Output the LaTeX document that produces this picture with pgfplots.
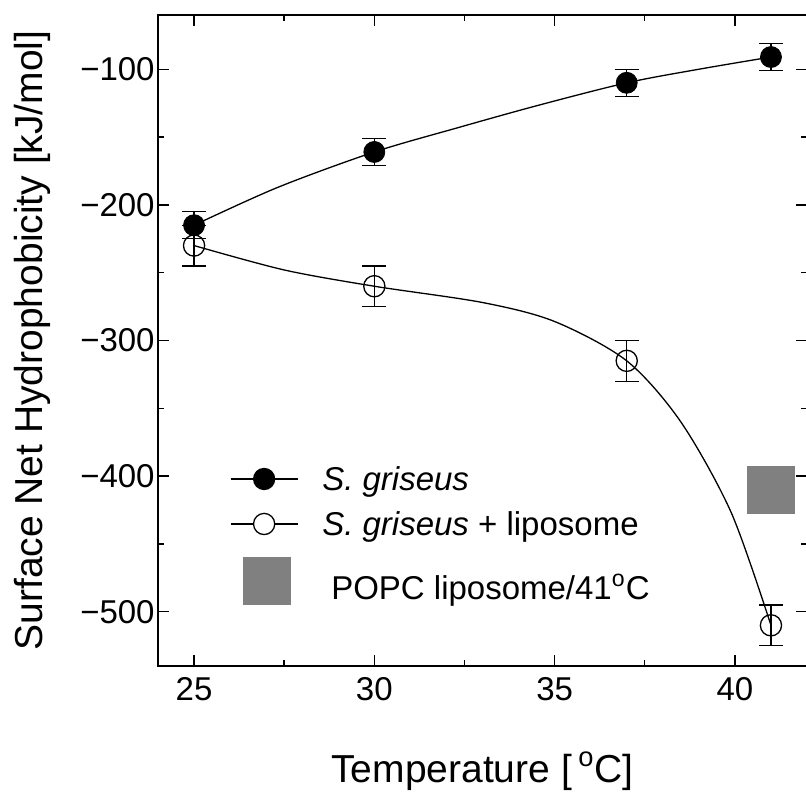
\documentclass[border=0pt]{standalone}
\usepackage{fontspec}
\setmainfont{Liberation Sans}
\usepackage{pgfplots}
\pgfplotsset{compat=1.18}
\definecolor{popc}{RGB}{128,128,128}

\begin{document}
\begin{tikzpicture}
\begin{axis}[
  scale only axis, width=324.5pt, height=325.5pt,
  xmin=24, xmax=42, ymin=-540, ymax=-60,
  xtick={25,30,35,40}, minor x tick num=1,
  ytick={-500,-400,-300,-200,-100},
  yticklabels={−500,−400,−300,−200,−100},
  minor y tick num=1,
  tick align=inside, tick pos=both,
  major tick length=5.5pt, minor tick length=3pt,
  every tick/.style={black, line width=0.7pt},
  axis line style={line width=0.75pt},
  /pgf/number format/assume math mode=true,
  ticklabel style={font=\fontsize{16.5}{19}\selectfont},
  xticklabel style={inner sep=0pt, yshift=-5.5pt},
  yticklabel style={inner sep=0pt, xshift=-1.5pt},
  xlabel={Temperature [\,\textsuperscript{o}C]},
  ylabel={Surface Net Hydrophobicity [kJ/mol]},
  label style={font=\fontsize{19.5}{23}\selectfont},
  xlabel style={at={(axis description cs:0.5,-0.1782)}, anchor=base},
  ylabel style={at={(axis description cs:-0.1772,0.5)}, anchor=base},
  legend cell align=left,
  legend style={at={(axis description cs:0.1109,0.3057)}, anchor=north west,
    draw=none, fill=none, inner sep=0pt, outer sep=0pt,
    row sep=10.5pt, column sep=12pt,
    font=\fontsize{16.5}{19}\selectfont,
    nodes={text height=12pt, text depth=0pt, inner sep=0pt}},
  error bars/error bar style={line width=0.65pt},
  error bars/error mark options={rotate=90, mark size=6pt, line width=0.65pt},
]

% fitted curves
\addplot[black, line width=0.65pt, smooth, forget plot] coordinates {
  (25,-215) (27.33,-187) (30,-161) (32.33,-143) (34.56,-126.5)
  (37,-110) (39,-100) (41,-91)};
\addplot[black, line width=0.65pt, smooth, forget plot] coordinates {
  (25,-230) (27.5,-248) (30,-260) (33,-272) (35,-286) (37,-315)
  (38.5,-360) (39.9,-427) (41,-510)};

% S. griseus
\addplot[black, only marks, mark=*, mark size=5.25pt,
  error bars/.cd, y dir=both, y explicit,
  /pgfplots/legend image code/.code={\draw[sharp plot, mark repeat=2, mark phase=2, line width=0.65pt]
    plot coordinates {(0pt,0pt) (16.75pt,0pt) (33.5pt,0pt)};}]
  coordinates {(25,-215) +- (0,10) (30,-161) +- (0,10) (37,-110) +- (0,10) (41,-91) +- (0,10)};
\addlegendentry{\textit{S. griseus}}

% S. griseus + liposome
\addplot[black, only marks, mark=o, mark size=5.3pt, mark options={line width=0.65pt},
  error bars/.cd, y dir=both, y explicit,
  /pgfplots/legend image code/.code={\draw[sharp plot, mark repeat=2, mark phase=2, line width=0.65pt,
    mark=*, mark options={fill=white}]
    plot coordinates {(0pt,0pt) (16.75pt,0pt) (33.5pt,0pt)};}]
  coordinates {(25,-230) +- (0,15) (30,-260) +- (0,15) (37,-315) +- (0,15) (41,-510) +- (0,15)};
\addlegendentry{\textit{S. griseus} + liposome}

% POPC liposome at 41 C
\addplot[only marks, mark=square*, mark size=11.75pt, draw=popc, fill=popc,
  legend image code/.code={\draw plot coordinates {(18.25pt,0pt)};}]
  coordinates {(41,-410)};
\addlegendentry{\hspace{4.5pt}\raisebox{-3.5pt}{POPC liposome/41\textsuperscript{o}C}}
\end{axis}
\pgfresetboundingbox
\path[use as bounding box] ([xshift=-79pt,yshift=-63.5pt]current axis.south west)
  rectangle ([xshift=-0.5pt,yshift=7.5pt]current axis.north east);
\end{tikzpicture}
\end{document}
